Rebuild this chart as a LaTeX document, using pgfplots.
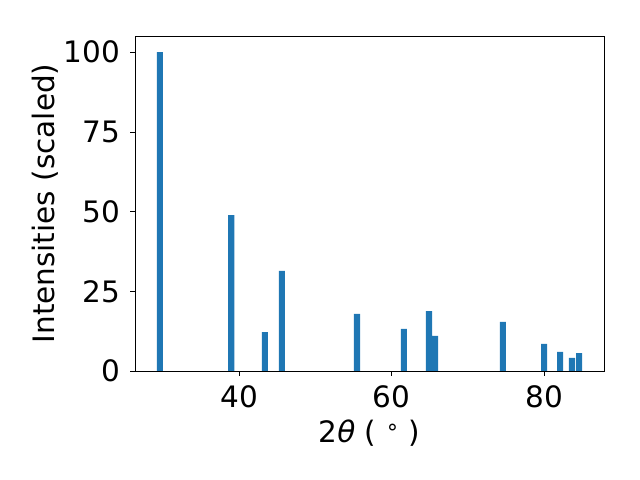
\documentclass[border=0pt]{standalone}
\usepackage{fontspec}
\setmainfont{DejaVu Sans}
\usepackage{pgfplots}
\pgfplotsset{compat=1.18}
\definecolor{tabblue}{HTML}{1F77B4}
\newcommand{\bigfont}{\fontsize{29.5bp}{35bp}\selectfont}
\begin{document}
\bigfont
\begin{tikzpicture}[x=1bp,y=1bp]
\path[use as bounding box] (0,0) rectangle (640,480);
\begin{axis}[
    at={(135bp,109bp)}, anchor=south west,
    scale only axis, width=469bp, height=335bp,
    xmin=26.31, xmax=87.87, ymin=0, ymax=105.1,
    xtick={40,60,80}, ytick={0,25,50,75,100},
    tick align=outside, major tick length=4.9bp,
    tick style={black, line width=0.8pt},
    axis line style={line width=0.8pt},
    xtick pos=bottom, ytick pos=left,
    /pgf/number format/assume math mode=true,
    tick label style={font=\bigfont},
    label style={font=\bigfont},
    xlabel={2\textit{θ} ( \raisebox{0.5ex}{\scalebox{0.75}{∘}} )},
    ylabel={Intensities (scaled)},
    xlabel style={yshift=8bp},
    ylabel style={yshift=-14bp},
]
\addplot[ybar, bar width=0.8, fill=tabblue, draw=none] coordinates {
(29.57,100) (38.94,48.9) (43.35,12.2) (45.58,31.4) (55.45,17.9)
(61.61,13.2) (64.90,18.8) (65.69,11.0) (74.60,15.4) (80.00,8.5)
(82.10,6.0) (83.67,4.1) (84.60,5.6)
};
\end{axis}
\end{tikzpicture}
\end{document}
